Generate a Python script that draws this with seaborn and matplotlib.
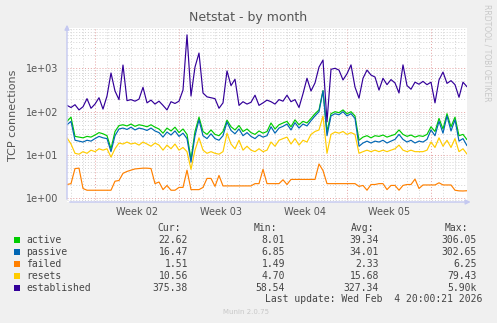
import matplotlib
matplotlib.use("Agg")
import matplotlib.pyplot as plt
import matplotlib.dates as mdates
from matplotlib.ticker import LogLocator, NullFormatter, FuncFormatter
from matplotlib.patches import Rectangle
import pandas as pd
import seaborn as sns

# ---- data: 8-hourly samples of TCP connection counts ----
start = "2026-01-02 16:00"
step = "8h"

series_names = ["active", "passive", "failed", "resets", "established"]
series_colors = ["#00CC00", "#0066B3", "#FF8000", "#FFCC00", "#330099"]

active = [60, 75, 27, 26, 25, 27, 26, 29, 33, 31, 28, 14, 35, 48, 50, 47, 52, 46, 50, 48,
          45, 50, 44, 40, 32, 42, 36, 44, 33, 40, 30, 8.01, 35, 75, 35, 30, 38, 30, 28, 35,
          64, 45, 38, 48, 35, 40, 33, 30, 36, 32, 35, 55, 40, 50, 55, 60, 45, 65, 50, 60,
          55, 70, 90, 110, 306.05, 35, 90, 100, 95, 110, 90, 100, 80, 22, 26, 28, 25, 28, 27, 29,
          26, 28, 30, 38, 30, 27, 29, 26, 28, 27, 30, 45, 35, 70, 40, 90, 45, 75, 28, 30,
          22.62]
passive = [50, 60, 22, 21, 20, 22, 21, 24, 27, 25, 24, 12, 28, 40, 42, 39, 44, 38, 42, 40,
           37, 42, 36, 33, 26, 34, 29, 36, 27, 32, 24, 6.85, 28, 65, 28, 24, 31, 24, 22, 28,
           58, 37, 31, 40, 28, 33, 27, 24, 29, 26, 28, 45, 32, 42, 46, 52, 38, 56, 42, 52,
           47, 62, 80, 100, 302.65, 28, 80, 90, 85, 100, 80, 90, 70, 16, 19, 21, 19, 21, 20, 22,
           19, 21, 23, 30, 23, 20, 22, 19, 21, 20, 23, 38, 28, 60, 32, 80, 36, 65, 21, 24,
           16.47]
failed = [2.1, 2.2, 4.9, 5.0, 1.7, 1.55, 1.55, 1.55, 1.55, 1.55, 1.55, 1.55, 2.5, 2.6, 3.8, 4.2, 4.5, 4.8, 4.9, 5.0,
          5.0, 4.9, 2.2, 2.4, 1.6, 2.0, 1.55, 1.55, 1.8, 1.8, 4.5, 1.6, 1.6, 1.6, 1.8, 2.9, 2.9, 1.9, 3.4, 1.95,
          1.95, 1.95, 1.95, 1.95, 1.95, 1.95, 1.95, 2.2, 2.2, 4.7, 2.2, 2.2, 2.2, 2.2, 2.7, 2.1, 2.75, 2.75, 2.75, 2.75,
          2.75, 2.75, 2.75, 6.25, 4.4, 2.2, 2.2, 2.2, 2.2, 2.2, 2.2, 2.2, 2.2, 1.9, 2.0, 1.55, 2.1, 2.1, 2.2, 2.2,
          1.6, 2.0, 2.0, 1.55, 2.0, 2.1, 2.1, 2.8, 1.7, 2.05, 2.05, 2.05, 2.05, 2.3, 2.05, 2.05, 2.05, 1.55, 1.5, 1.49,
          1.51]
resets = [25, 18, 11, 10.5, 12, 11, 13, 12, 14, 13, 14, 9, 14, 19, 18, 20, 18, 19, 17, 20,
          18, 16, 19, 17, 13, 17, 14, 18, 13, 15, 12, 4.70, 13, 25, 13, 11, 12, 11, 10.5, 12,
          32, 18, 14, 22, 13, 16, 13, 12, 14, 12, 13, 20, 16, 22, 24, 26, 18, 24, 17, 22,
          20, 30, 35, 38, 79.43, 11, 30, 34, 32, 35, 30, 33, 30, 11, 12, 13, 12, 13, 12, 13,
          12, 13, 14, 17, 13, 12, 13, 12, 12, 12, 13, 20, 15, 25, 16, 22, 15, 24, 12, 14,
          10.56]
established = [140, 125, 145, 110, 130, 200, 120, 150, 210, 115, 230, 780, 300, 190, 1190, 180, 190, 175, 195, 365,
               160, 185, 150, 175, 140, 110, 170, 155, 175, 315, 5900, 230, 1070, 2250, 270, 220, 210, 200, 120, 160,
               870, 400, 560, 140, 170, 150, 165, 240, 140, 160, 185, 170, 150, 190, 175, 240, 170, 190, 125, 260,
               590, 300, 460, 1070, 1550, 58.54, 950, 1000, 910, 540, 750, 1200, 370, 205, 590, 910, 700, 630, 315, 590,
               420, 550, 460, 270, 1200, 400, 330, 480, 430, 500, 420, 480, 160, 540, 820, 450, 520, 420, 215, 480,
               375.38]

# legend statistics
cur_vals = [22.62, 16.47, 1.51, 10.56, 375.38]
min_vals = [8.01, 6.85, 1.49, 4.70, 58.54]
avg_vals = [39.34, 34.01, 2.33, 15.68, 327.34]
max_vals = [306.05, 302.65, 6.25, 79.43, 5900]

title = "Netstat - by month"
ylabel = "TCP connections"
last_update = "Last update: Wed Feb  4 20:00:21 2026"

# ---- assemble long-form table ----
times = pd.date_range(start, periods=len(active), freq=step)
values = [active, passive, failed, resets, established]
df = pd.concat(
    [pd.DataFrame({"time": times, "value": v, "series": n}) for n, v in zip(series_names, values)],
    ignore_index=True,
)

sns.set_style("white")
plt.rcParams["font.family"] = ["DejaVu Sans"]

W, H = 497, 323
fig = plt.figure(figsize=(W / 100, H / 100), dpi=100, facecolor="#F0F0F0")
ax = fig.add_axes([67 / W, 1 - 202 / H, 400 / W, 174 / H])
ax.set_facecolor("white")

sns.lineplot(data=df, x="time", y="value", hue="series", hue_order=series_names,
             palette=series_colors, legend=False, linewidth=0.85, ax=ax)

ax.set_yscale("log")
ax.set_ylim(0.83, 8500)
ax.set_xlim(times[0], times[-1])

# grid
ax.xaxis.set_major_locator(mdates.WeekdayLocator(byweekday=mdates.MO))
ax.xaxis.set_minor_locator(mdates.DayLocator())
ax.xaxis.set_major_formatter(NullFormatter())
ax.yaxis.set_major_locator(LogLocator(base=10, numticks=10))
ax.yaxis.set_minor_locator(LogLocator(base=10, subs=range(2, 10), numticks=20))
ax.yaxis.set_minor_formatter(NullFormatter())
ax.yaxis.set_major_formatter(FuncFormatter(lambda v, p: f"{v:.0e}"))

ax.grid(which="minor", color="#D4D4D4", linestyle=(0, (1, 2)), linewidth=0.7)
ax.grid(which="major", color="#E4A0A0", linestyle=(0, (1, 2)), linewidth=0.7)
ax.set_axisbelow(True)

ax.tick_params(axis="both", which="major", length=4, width=0.7, color="#E4A0A0",
               labelsize=7, labelcolor="#555555", pad=2)
ax.tick_params(axis="both", which="minor", length=2, width=0.7, color="#D4D4D4")

for s in ax.spines.values():
    s.set_visible(False)

ax.set_xlabel("")
ax.set_ylabel(ylabel, fontsize=8, color="#555555", labelpad=6)

# week labels centred within each week
for monday in pd.date_range("2025-12-29", times[-1], freq="7D"):
    mid = monday + pd.Timedelta(days=3.5)
    if times[0] <= mid <= times[-1]:
        ax.text(mid, -0.058, f"Week {mid.isocalendar().week:02d}", transform=ax.get_xaxis_transform(),
                ha="center", va="center", fontsize=7, color="#555555")

# axis lines with arrows
axis_color = "#C4C8F0"
ax.annotate("", xy=(0, 1.035), xytext=(0, 0), xycoords="axes fraction",
            arrowprops=dict(arrowstyle="-|>", color=axis_color, lw=1.0, mutation_scale=7),
            annotation_clip=False)
ax.annotate("", xy=(1.016, 0), xytext=(0, 0), xycoords="axes fraction",
            arrowprops=dict(arrowstyle="-|>", color=axis_color, lw=1.0, mutation_scale=7),
            annotation_clip=False)

def fx(x):
    return x / W

def fy(y):
    return 1 - y / H

fig.text(fx(248), fy(18), title, ha="center", va="center", fontsize=9, color="#555555")
fig.text(fx(487), fy(53), "RRDTOOL / TOBI OETIKER", rotation=270, ha="center", va="center",
         fontsize=5.5, color="#C8C8C8")

# legend table
mono = dict(family="DejaVu Sans Mono", fontsize=7, color="#444444", va="center")

def fmt(v):
    return f"{v / 1000:.2f}k" if v >= 1000 else f"{v:.2f}"

fig.text(fx(181), fy(228), "Cur:", ha="right", **mono)
fig.text(fx(277), fy(228), "Min:", ha="right", **mono)
fig.text(fx(374), fy(228), "Avg:", ha="right", **mono)
fig.text(fx(468), fy(228), "Max:", ha="right", **mono)

for i, (name, col) in enumerate(zip(series_names, series_colors)):
    yc = 240 + 12 * i
    fig.add_artist(Rectangle((fx(14), fy(yc + 2.7)), 5.5 / W, 5.5 / H, transform=fig.transFigure,
                             facecolor=col, edgecolor="none"))
    fig.text(fx(26), fy(yc), name, ha="left", **mono)
    fig.text(fx(188), fy(yc), fmt(cur_vals[i]), ha="right", **mono)
    fig.text(fx(285), fy(yc), fmt(min_vals[i]), ha="right", **mono)
    fig.text(fx(379), fy(yc), fmt(avg_vals[i]), ha="right", **mono)
    fig.text(fx(477), fy(yc), fmt(max_vals[i]), ha="right", **mono)

fig.text(fx(482), fy(299), last_update, ha="right", **mono)
fig.text(fx(246), fy(312), "Munin 2.0.75", ha="center", va="center", fontsize=5, color="#C8C8C8")

fig.savefig("out.png", dpi=100, facecolor=fig.get_facecolor())
